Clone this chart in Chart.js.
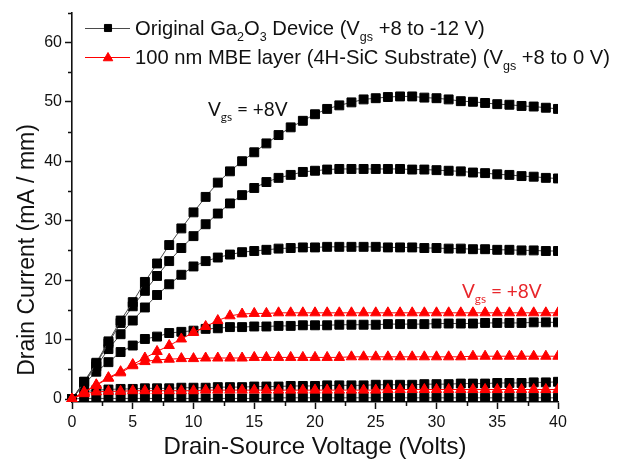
<!DOCTYPE html>
<html>
<head>
<meta charset="utf-8">
<script src="https://cdn.jsdelivr.net/npm/chart.js@4/dist/chart.umd.min.js"></script>
<style>
  html, body { margin: 0; padding: 0; background: #fff; }
  canvas { display: block; }
</style>
</head>
<body>
<canvas id="c" width="626" height="467"></canvas>
<script>
// Drain-source voltage sweep (V)
const vds = [0,1,2,3,4,5,6,7,8,9,10,11,12,13,14,15,16,17,18,19,20,21,22,23,24,25,26,27,28,29,30,31,32,33,34,35,36,37,38,39,40];

// Original Ga2O3 device, drain current (mA/mm), Vgs = +8, +4, 0, -4, -8, -12 V
const ga2o3Vgs8  = [0,2.9,6.1,9.7,13.2,16.3,19.7,22.8,25.9,28.7,31.4,34.0,36.4,38.3,40.0,41.5,43.0,44.4,45.7,46.8,47.9,48.8,49.4,49.9,50.4,50.6,50.8,50.9,50.9,50.7,50.6,50.4,50.1,50.0,49.8,49.6,49.5,49.3,49.2,49.0,48.8];
const ga2o3Vgs4  = [0,2.9,5.9,9.4,12.8,15.6,18.2,20.7,23.2,25.4,27.4,29.4,31.2,32.9,34.3,35.5,36.5,37.2,37.7,38.2,38.4,38.6,38.7,38.7,38.7,38.7,38.7,38.7,38.6,38.6,38.5,38.4,38.3,38.1,38.0,37.8,37.7,37.5,37.4,37.2,37.1];
const ga2o3Vgs0  = [0,2.8,5.5,8.4,10.9,13.2,15.4,17.5,19.3,20.9,22.3,23.2,23.8,24.3,24.7,24.9,25.1,25.3,25.4,25.5,25.5,25.6,25.6,25.6,25.6,25.6,25.5,25.5,25.5,25.4,25.4,25.3,25.3,25.2,25.2,25.1,25.1,25.0,25.0,24.9,24.9];
const ga2o3VgsM4 = [0,2.5,4.6,6.2,7.9,9.0,10.1,10.5,11.1,11.3,11.5,11.8,11.9,12.1,12.1,12.2,12.2,12.3,12.3,12.4,12.4,12.4,12.5,12.5,12.5,12.5,12.6,12.6,12.6,12.6,12.7,12.7,12.7,12.7,12.8,12.8,12.8,12.8,12.9,12.9,12.9];
const ga2o3VgsM8 = [0,1.2,1.5,1.6,1.7,1.7,1.8,1.8,1.8,1.9,1.9,1.9,2.0,2.0,2.0,2.1,2.1,2.1,2.2,2.2,2.2,2.3,2.3,2.3,2.3,2.4,2.4,2.4,2.4,2.5,2.5,2.5,2.6,2.6,2.6,2.7,2.7,2.7,2.8,2.8,2.9];
const ga2o3VgsM12 = [0,0.1,0.1,0.1,0.1,0.1,0.1,0.1,0.1,0.1,0.1,0.1,0.1,0.1,0.1,0.1,0.1,0.2,0.2,0.2,0.2,0.2,0.2,0.2,0.2,0.2,0.2,0.2,0.2,0.2,0.2,0.2,0.2,0.2,0.2,0.2,0.2,0.2,0.2,0.2,0.2];

// 100 nm MBE layer on 4H-SiC, drain current (mA/mm), Vgs = +8, +4, 0 V
const mbeVgs8 = [0,1.2,2.4,3.6,4.6,5.8,6.9,8.0,9.0,10.1,11.2,12.2,13.2,14.0,14.3,14.4,14.4,14.5,14.5,14.5,14.5,14.5,14.5,14.5,14.5,14.5,14.5,14.5,14.5,14.5,14.5,14.5,14.5,14.5,14.5,14.5,14.5,14.5,14.5,14.5,14.5];
const mbeVgs4 = [0,1.1,2.3,3.5,4.4,5.6,6.3,6.6,6.7,6.8,6.8,6.9,6.9,6.9,6.9,7.0,7.0,7.0,7.0,7.0,7.0,7.0,7.0,7.1,7.1,7.1,7.1,7.1,7.1,7.1,7.1,7.1,7.1,7.2,7.2,7.2,7.2,7.2,7.2,7.2,7.2];
const mbeVgs0 = [0,0.9,1.2,1.3,1.3,1.4,1.4,1.4,1.4,1.4,1.4,1.5,1.5,1.5,1.5,1.5,1.5,1.5,1.5,1.5,1.5,1.5,1.5,1.5,1.5,1.5,1.6,1.6,1.6,1.6,1.6,1.6,1.6,1.6,1.6,1.6,1.6,1.6,1.6,1.6,1.6];

// Axis ranges and tick steps
const xRange = [0, 40];
const yRange = [-0.5, 65];
const xStep = 5, yStep = 10;

const FONT = '"Liberation Sans", Arial, Helvetica, sans-serif';
const NOTE_FONT = 'Lato, "Open Sans", sans-serif';
const RED = '#ff0000';
const LABEL_RED = '#e8262b';
const BLACK_LINE = '#4a4a4a';

const toXY = arr => vds.map((v, i) => ({ x: v, y: arr[i] }));

const squareStyle = {
  pointStyle: 'rect', pointRadius: 6.3, pointHoverRadius: 6.3,
  pointBackgroundColor: '#000', pointBorderColor: '#000', pointBorderWidth: 1,
  borderColor: BLACK_LINE, borderWidth: 1, showLine: true, tension: 0, order: 1,
  clip: { left: 10, top: 10, right: 0, bottom: 0 }
};
const triangleStyle = {
  pointStyle: 'triangle', pointRadius: 6, pointHoverRadius: 6,
  pointBackgroundColor: RED, pointBorderColor: RED, pointBorderWidth: 1,
  borderColor: RED, borderWidth: 1, showLine: true, tension: 0, order: 0,
  clip: { left: 10, top: 10, right: 0, bottom: 0 }
};

const datasets = [
  { label: 'Ga2O3 Vgs +8 V',  data: toXY(ga2o3Vgs8),  ...squareStyle },
  { label: 'Ga2O3 Vgs +4 V',  data: toXY(ga2o3Vgs4),  ...squareStyle },
  { label: 'Ga2O3 Vgs 0 V',   data: toXY(ga2o3Vgs0),  ...squareStyle },
  { label: 'Ga2O3 Vgs -4 V',  data: toXY(ga2o3VgsM4), ...squareStyle },
  { label: 'Ga2O3 Vgs -8 V',  data: toXY(ga2o3VgsM8), ...squareStyle },
  { label: 'Ga2O3 Vgs -12 V', data: toXY(ga2o3VgsM12), ...squareStyle },
  { label: 'MBE Vgs +8 V', data: toXY(mbeVgs8), ...triangleStyle },
  { label: 'MBE Vgs +4 V', data: toXY(mbeVgs4), ...triangleStyle },
  { label: 'MBE Vgs 0 V',  data: toXY(mbeVgs0), ...triangleStyle }
];

// Text with subscript runs: parts = [[text, isSubscript], ...]
function richText(ctx, x, y, parts, size, color, family) {
  ctx.save();
  ctx.fillStyle = color;
  ctx.textAlign = 'left';
  ctx.textBaseline = 'alphabetic';
  for (const [t, sub] of parts) {
    const s = sub ? size * 0.62 : size;
    ctx.font = `${s}px ${family}`;
    ctx.fillText(t, x, y + (sub ? size * 0.28 : 0));
    x += ctx.measureText(t).width;
  }
  ctx.restore();
}

const decorations = {
  id: 'decorations',
  afterDraw(chart) {
    const { ctx, scales: { x, y } } = chart;
    const axisY = chart.chartArea.bottom, axisX = chart.chartArea.left;

    // minor ticks halfway between the labelled ones
    ctx.save();
    ctx.strokeStyle = '#111';
    ctx.lineWidth = 1.5;
    ctx.beginPath();
    for (let v = xRange[0] + xStep / 2; v < xRange[1]; v += xStep) {
      const px = Math.round(x.getPixelForValue(v)) + 0.5;
      ctx.moveTo(px, axisY); ctx.lineTo(px, axisY + 4);
    }
    for (let v = yStep / 2; v <= yRange[1]; v += yStep) {
      const py = Math.round(y.getPixelForValue(v)) + 0.5;
      ctx.moveTo(axisX, py); ctx.lineTo(axisX - 4, py);
    }
    ctx.stroke();
    ctx.restore();

    // axis titles
    ctx.save();
    ctx.fillStyle = '#111';
    ctx.textAlign = 'center';
    ctx.textBaseline = 'middle';
    ctx.font = `24px ${FONT}`;
    ctx.fillText('Drain-Source Voltage (Volts)', (x.left + x.right) / 2, 447);
    ctx.translate(28, 250);
    ctx.rotate(-Math.PI / 2);
    ctx.font = `23px ${FONT}`;
    ctx.fillText('Drain Current (mA / mm)', 0, 0);
    ctx.restore();

    // legend
    const items = [
      { ds: datasets[0], y: 28, parts: [['Original Ga', 0], ['2', 1], ['O', 0], ['3', 1], [' Device (V', 0], ['gs', 1], [' +8 to -12 V)', 0]] },
      { ds: datasets[6], y: 57, parts: [['100 nm MBE layer (4H-SiC Substrate) (V', 0], ['gs', 1], [' +8 to 0 V)', 0]] }
    ];
    for (const it of items) {
      ctx.save();
      ctx.strokeStyle = it.ds.borderColor;
      ctx.lineWidth = 1;
      ctx.beginPath();
      ctx.moveTo(85, it.y + 0.5); ctx.lineTo(130, it.y + 0.5);
      ctx.stroke();
      ctx.fillStyle = it.ds.pointBackgroundColor;
      ctx.strokeStyle = it.ds.pointBorderColor;
      Chart.helpers.drawPoint(ctx, {
        pointStyle: it.ds.pointStyle,
        radius: it.ds.pointStyle === 'rect' ? 5 : 5.5,
        rotation: 0, borderWidth: 1
      }, 108, it.y + (it.ds.pointStyle === 'triangle' ? 1 : 0));
      ctx.restore();
      richText(ctx, 135, it.y + 7, it.parts, 20.2, '#111', FONT);
    }

    // curve annotations
    const note = [['V', 0], ['gs', 1], [' = +8V', 0]];
    richText(ctx, 208, 116, note, 19, '#111', NOTE_FONT);
    richText(ctx, 462, 298, note, 19, LABEL_RED, NOTE_FONT);
  }
};

new Chart(document.getElementById('c'), {
  type: 'line',
  data: { datasets },
  options: {
    responsive: false,
    animation: false,
    devicePixelRatio: 1,
    layout: { padding: { top: 9, right: 68, bottom: 0, left: 0 } },
    plugins: { legend: { display: false }, tooltip: { enabled: false } },
    scales: {
      x: {
        type: 'linear', position: 'bottom',
        min: xRange[0], max: xRange[1],
        afterFit: s => { s.height = 65; },
        ticks: { stepSize: xStep, maxRotation: 0, padding: 4, color: '#111', font: { family: FONT, size: 16 } },
        grid: { drawOnChartArea: false, drawTicks: true, tickLength: 7, tickColor: '#111', tickWidth: 1.5 },
        border: { display: true, color: '#111', width: 1.6 }
      },
      y: {
        type: 'linear', position: 'left',
        min: yRange[0], max: yRange[1],
        afterFit: s => { s.width = 72; },
        ticks: { stepSize: yStep, includeBounds: false, padding: 3, color: '#111', font: { family: FONT, size: 16 } },
        grid: { drawOnChartArea: false, drawTicks: true, tickLength: 7, tickColor: '#111', tickWidth: 1.5 },
        border: { display: true, color: '#111', width: 1.6 }
      }
    }
  },
  plugins: [decorations]
});
</script>
</body>
</html>
